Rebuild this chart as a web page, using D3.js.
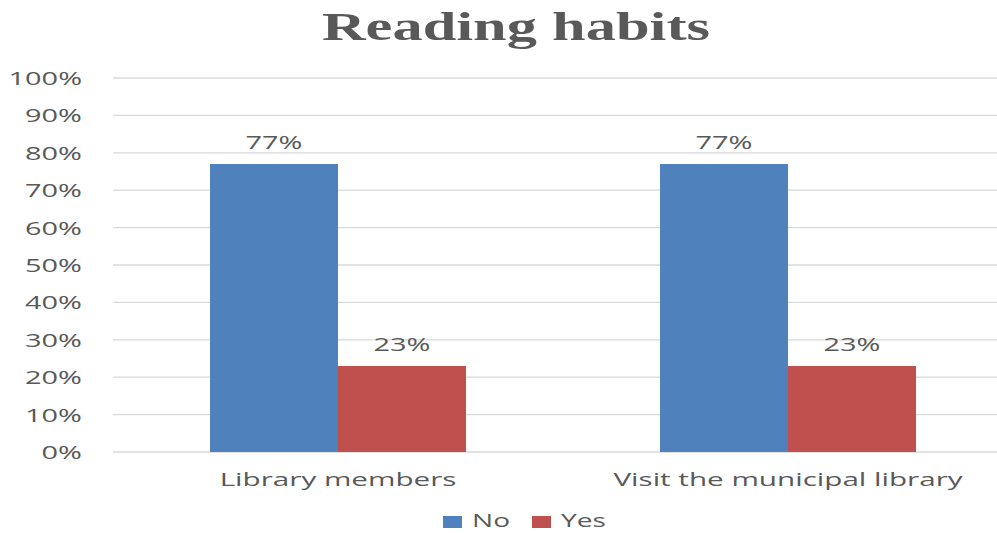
<!DOCTYPE html>
<html>
<head>
<meta charset="utf-8">
<script src="https://cdn.jsdelivr.net/npm/d3@7"></script>
<style>
  body { margin: 0; background: #fff; }
  text { fill: #595959; }
</style>
</head>
<body>
<div id="chart"></div>
<script>
const categories = ["Library members", "Visit the municipal library"];
const seriesNames = ["No", "Yes"];
const noValues = [0.77, 0.77];
const yesValues = [0.23, 0.23];
const colors = ["#4F81BD", "#C0504D"];
const yTicks = [0, 0.1, 0.2, 0.3, 0.4, 0.5, 0.6, 0.7, 0.8, 0.9, 1];

const width = 997, height = 533;
const SX = 1.56; // horizontal stretch of the source picture

const data = categories.map((c, i) => ({
  category: c,
  values: [
    { key: "No", value: noValues[i] },
    { key: "Yes", value: yesValues[i] }
  ]
}));

const svg = d3.select("#chart").append("svg")
  .attr("width", width)
  .attr("height", height);

const x0 = d3.scaleBand().domain(categories).range([113, 1013]).padding(0);
const x1 = d3.scaleBand().domain(seriesNames).range([0, x0.bandwidth()])
  .paddingInner(0).paddingOuter(0.758);
const y = d3.scaleLinear().domain([0, 1]).range([452, 78]);
const color = d3.scaleOrdinal().domain(seriesNames).range(colors);

// stretched text helper
const stretched = (g, x, yy, txt, size, anchor, family, weight, sx) => {
  g.append("text")
    .attr("transform", `translate(${x},${yy}) scale(${sx || SX},1)`)
    .attr("text-anchor", anchor)
    .style("font-family", family || "'Open Sans', sans-serif")
    .style("font-size", size + "px")
    .style("font-weight", weight || "normal")
    .text(txt);
};

// title
stretched(svg, 516, 40, "Reading habits", 41, "middle", "'Liberation Serif', 'Times New Roman', serif", "bold", 1.475);

// gridlines
svg.append("g").selectAll("line")
  .data(yTicks)
  .enter().append("line")
  .attr("x1", 113)
  .attr("x2", width)
  .attr("y1", d => y(d))
  .attr("y2", d => y(d))
  .attr("stroke", "#D9D9D9")
  .attr("stroke-width", 1.3);

// y tick labels
const yAxisG = svg.append("g");
yTicks.forEach(t => stretched(yAxisG, 82, y(t) + 7, d3.format(".0%")(t), 19, "end", null, null, 1.52));

// bars
const groups = svg.selectAll(".grp")
  .data(data)
  .enter().append("g")
  .attr("class", "grp")
  .attr("transform", d => `translate(${x0(d.category)},0)`);

groups.selectAll("rect")
  .data(d => d.values)
  .enter().append("rect")
  .attr("x", d => x1(d.key))
  .attr("y", d => y(d.value))
  .attr("width", x1.bandwidth())
  .attr("height", d => y(0) - y(d.value))
  .attr("fill", d => color(d.key));

groups.each(function(d) {
  const g = d3.select(this);
  d.values.forEach(v => {
    stretched(g, x1(v.key) + x1.bandwidth() / 2, y(v.value) - 15, d3.format(".0%")(v.value), 19, "middle", null, null, 1.52);
  });
  stretched(g, x0.bandwidth() / 2, 486, d.category, 19, "middle");
});

// legend
const legend = svg.append("g");
const legendX = [443, 532];
seriesNames.forEach((s, i) => {
  legend.append("rect")
    .attr("x", legendX[i])
    .attr("y", 516)
    .attr("width", 19)
    .attr("height", 12)
    .attr("fill", color(s));
  stretched(legend, legendX[i] + 29, 527, s, 18, "start");
});
</script>
</body>
</html>
